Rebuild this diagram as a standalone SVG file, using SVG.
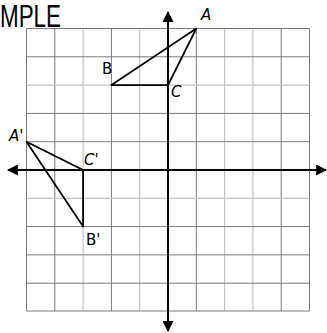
<svg xmlns="http://www.w3.org/2000/svg" width="327" height="333" viewBox="0 0 327 333">
<style>
.g{stroke:#7a7a7a;stroke-width:1;fill:none}
.gl{stroke:#c4c4c4;stroke-width:1.2;fill:none}
.ax{stroke:#000;stroke-width:2;fill:none}
.tri{stroke:#000;stroke-width:1.8;fill:none;stroke-linejoin:round}
.lbl{font-family:"DejaVu Sans","Liberation Sans",sans-serif;font-size:15px;fill:#000}
.ttl{font-family:"Liberation Sans",sans-serif;font-size:31px;fill:#000}
</style>
<defs>
<marker id="ah" viewBox="0 0 10 10" refX="9" refY="5" markerWidth="5.5" markerHeight="5.5" markerUnits="strokeWidth" orient="auto">
<path d="M0,0 L10,5 L0,10 z" fill="#000"/>
</marker>
</defs>
<rect width="327" height="333" fill="#fff"/>
<text class="ttl" x="0" y="27" textLength="61" lengthAdjust="spacingAndGlyphs">MPLE</text>
<g id="grid">
<path class="g" d="M26.5,28V311 M54.8,28V311 M111.4,28V311 M196.3,28V311 M281.2,28V311 M309.5,28V311"/>
<path class="gl" d="M83.1,28V311 M139.7,28V311 M224.6,28V311 M252.9,28V311"/>
<path class="g" d="M26.5,28.5H309.5 M26.5,56.8H309.5 M26.5,113.4H309.5 M26.5,141.7H309.5 M26.5,226.6H309.5 M26.5,254.9H309.5 M26.5,283.2H309.5 M26.5,311H309.5"/>
<path class="gl" d="M26.5,85.1H309.5 M26.5,198.3H309.5"/>
</g>
<g id="connectors">
<line class="ax" x1="168" y1="322" x2="168" y2="12" marker-end="url(#ah)"/>
<line class="ax" x1="168" y1="20" x2="168" y2="331" marker-end="url(#ah)"/>
<line class="ax" x1="14" y1="170" x2="326" y2="170" marker-end="url(#ah)"/>
<line class="ax" x1="318" y1="170" x2="8" y2="170" marker-end="url(#ah)"/>
</g>
<g id="triangle-ABC">
<polygon class="tri" points="196.3,28.5 111.4,85.1 168,85.1"/>
<text class="lbl" x="201" y="20" font-style="italic">A</text>
<text class="lbl" x="102" y="74">B</text>
<text class="lbl" x="171" y="97" font-style="italic">C</text>
</g>
<g id="triangle-A1B1C1">
<polygon class="tri" points="26.5,141.7 83.1,170 83.1,226.6"/>
<text class="lbl" x="9" y="141" font-style="italic">A'</text>
<text class="lbl" x="84" y="165" font-style="italic">C'</text>
<text class="lbl" x="86" y="245">B'</text>
</g>
</svg>
